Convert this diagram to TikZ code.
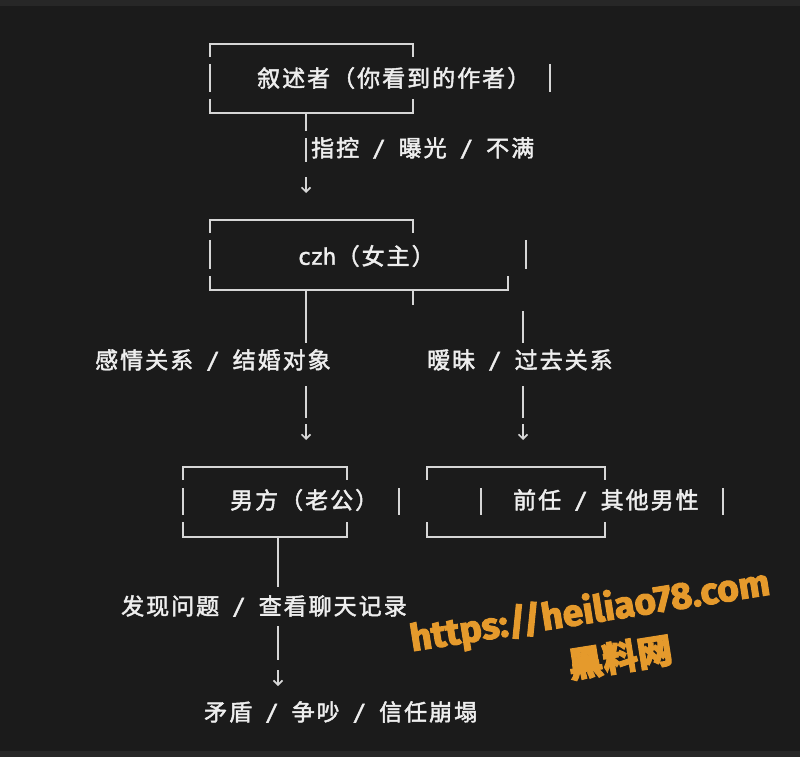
\documentclass[tikz,border=0pt]{standalone}
\usepackage{fontspec}
\setmainfont{Noto Sans CJK SC}[FakeBold=2]
\newfontfamily\monof{DejaVu Sans Mono}[FakeBold=1.5]
\newfontfamily\wmlat{Fira Sans}[FakeBold=3]
\newfontfamily\wmcjk{Noto Sans CJK SC}[FakeBold=3]
\usetikzlibrary{arrows.meta}
\definecolor{bg}{HTML}{1B1B1B}
\definecolor{strip}{HTML}{272727}
\definecolor{ln}{HTML}{D6D6D6}
\definecolor{tx}{HTML}{EEEEEE}
\definecolor{wm}{HTML}{E59A2C}
\newdimen\colw \colw=12.5pt
\makeatletter
\newcommand\gridtxt[1]{\gt@loop#1\@nil}
\def\gt@loop#1{\ifx#1\@nil\else\gt@char{#1}\expandafter\gt@loop\fi}
\def\gt@char#1{\ifx#1~\hbox to\colw{}\else\ifnum`#1>255 \hbox to2\colw{\hss#1\hss}\else\hbox to\colw{\hss\monof#1\hss}\fi\fi}
\makeatother
\begin{document}
\begin{tikzpicture}[x=1pt,y=-1pt,
  bx/.style={draw=ln,line width=1.8pt},
  lbl/.style={anchor=west,inner sep=0pt,text=tx,font=\fontsize{23}{28}\selectfont},
  arr/.style={draw=ln,line width=1.6pt,-{Straight Barb[length=4.5pt,width=9pt]}},
  wmark/.style={rotate=9,text=wm,inner sep=0pt}]
\fill[bg] (0,0) rectangle (800,757);
\fill[strip] (0,0) rectangle (800,6);
\fill[strip] (0,751) rectangle (800,757);
\useasboundingbox (0,0) rectangle (800,757);

% texts
\node[lbl] (tA) at (256,78) {\gridtxt{叙述者（你看到的作者）}};
\node[lbl] (eAB) at (310,148) {\gridtxt{指控~/~曝光~/~不满}};
\node[lbl] (tB) at (298,256) {\gridtxt{czh（女主）}};
\node[lbl] (eBC) at (94,360) {\gridtxt{感情关系~/~结婚对象}};
\node[lbl] (eBD) at (426,360) {\gridtxt{暧昧~/~过去关系}};
\node[lbl] (tC) at (229,500) {\gridtxt{男方（老公）}};
\node[lbl] (tD) at (512,500) {\gridtxt{前任~/~其他男性}};
\node[lbl] (eCE) at (120,606) {\gridtxt{发现问题~/~查看聊天记录}};
\node[lbl] (tE) at (203,712) {\gridtxt{矛盾~/~争吵~/~信任崩塌}};

% box A
\draw[bx] (210,57) -- (210,44) -- (413,44) -- (413,57);
\draw[bx] (210,64) -- (210,92);
\draw[bx] (210,99) -- (210,113) -- (413,113) -- (413,99);
\draw[bx] (550,64) -- (550,92);
% A -> B
\coordinate (a1) at (306,113); \coordinate (a2) at (306,131);
\coordinate (a3) at (306,138); \coordinate (a4) at (306,162);
\coordinate (a5) at (306,177); \coordinate (a6) at (306,193);
\draw[bx] (a1) -- (a2); \draw[bx] (a3) -- (a4);
\draw[arr] (a5) -- (a6);

% box B
\draw[bx] (210,233) -- (210,220) -- (413,220) -- (413,233);
\draw[bx] (210,240) -- (210,269);
\draw[bx] (210,276) -- (210,290) -- (508,290) -- (508,276);
\draw[bx] (526,240) -- (526,269);
% B -> C
\coordinate (b1) at (306,290); \coordinate (b2) at (306,343);
\coordinate (b3) at (306,386); \coordinate (b4) at (306,418);
\coordinate (b5) at (306,424); \coordinate (b6) at (306,440);
\draw[bx] (b1) -- (b2); \draw[bx] (b3) -- (b4);
\draw[arr] (b5) -- (b6);
\draw[bx] (413,290) -- (413,305);
% B -> D
\coordinate (c1) at (523,311); \coordinate (c2) at (523,343);
\coordinate (c3) at (523,386); \coordinate (c4) at (523,418);
\coordinate (c5) at (523,424); \coordinate (c6) at (523,440);
\draw[bx] (c1) -- (c2); \draw[bx] (c3) -- (c4);
\draw[arr] (c5) -- (c6);

% box C
\draw[bx] (183,480) -- (183,467) -- (347,467) -- (347,480);
\draw[bx] (183,488) -- (183,515);
\draw[bx] (183,522) -- (183,537) -- (347,537) -- (347,522);
\draw[bx] (399,488) -- (399,515);

% box D
\draw[bx] (427,480) -- (427,467) -- (605,467) -- (605,480);
\draw[bx] (427,522) -- (427,537) -- (605,537) -- (605,522);
\draw[bx] (481,488) -- (481,515);
\draw[bx] (723,488) -- (723,515);

% C -> E
\coordinate (d1) at (278,537); \coordinate (d2) at (278,587);
\coordinate (d3) at (278,626); \coordinate (d4) at (278,660);
\coordinate (d5) at (278,670); \coordinate (d6) at (278,686);
\draw[bx] (d1) -- (d2); \draw[bx] (d3) -- (d4);
\draw[arr] (d5) -- (d6);

% watermark
\node[wmark,font=\wmlat\bfseries\fontsize{37}{40}\selectfont] (wm1) at (590,612) {https://heiliao78.com};
\node[wmark,font=\wmcjk\bfseries\fontsize{35}{38}\selectfont] (wm2) at (620,657) {黑料网};
\end{tikzpicture}
\end{document}
